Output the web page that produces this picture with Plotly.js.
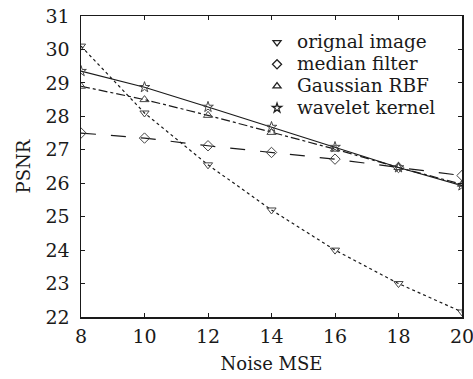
<!DOCTYPE html>
<html><head><meta charset="utf-8">
<script src="https://cdn.plot.ly/plotly-3.0.1.min.js"></script>
<style>html,body{margin:0;padding:0;background:#fff}</style>
</head><body>
<div id="chart" style="width:473px;height:379px"></div>
<script>
const noiseMSE = [8, 10, 12, 14, 16, 18, 20];
const seriesNames = ["orignal image", "median filter", "Gaussian RBF", "wavelet kernel"];
const originalImage = [30.1, 28.1, 26.55, 25.2, 24.0, 23.0, 22.15];
const medianFilter = [27.5, 27.35, 27.12, 26.92, 26.72, 26.47, 26.23];
const gaussianRBF = [28.9, 28.5, 28.03, 27.52, 27.02, 26.47, 25.97];
const waveletKernel = [29.35, 28.87, 28.28, 27.68, 27.08, 26.47, 25.93];
const xTicks = [8, 10, 12, 14, 16, 18, 20];
const yTicks = [22, 23, 24, 25, 26, 27, 28, 29, 30, 31];

const allSeries = [originalImage, medianFilter, gaussianRBF, waveletKernel];
const symbols = ["triangle-down-open", "diamond-open", "triangle-up-open", "star-open"];
const dashes = ["dot", "longdash", "dashdot", "solid"];

const traces = [];
allSeries.forEach((ys, i) => {
  traces.push({
    x: noiseMSE, y: ys, type: "scatter", mode: "lines+markers",
    line: {color: "#1a1a1a", width: 1.2, dash: dashes[i]},
    marker: {symbol: symbols[i], size: 8, color: "#444", line: {width: 1, color: "#444"}},
    showlegend: false, cliponaxis: true
  });
});
allSeries.forEach((ys, i) => {
  traces.push({
    x: [null], y: [null], type: "scatter", mode: "markers",
    name: '<span style="font-size:18.5px">' + seriesNames[i] + '</span>',
    marker: {symbol: symbols[i], size: 7, color: "#222", line: {width: 1.3, color: "#222"}},
    showlegend: true
  });
});

const fam = "DejaVu Serif, Liberation Serif, serif";
const f = s => ({family: fam, size: s, color: "#1a1a1a"});
Plotly.newPlot("chart", traces, {
  width: 473, height: 379,
  margin: {l: 81, r: 11, t: 16, b: 62},
  paper_bgcolor: "#fff", plot_bgcolor: "#fff",
  font: f(16),
  xaxis: {
    range: [8, 20], tickvals: xTicks, ticks: "inside", ticklen: 4, tickcolor: "#1a1a1a",
    showline: true, linecolor: "#1a1a1a", linewidth: 1.5, mirror: "ticks", showgrid: false, zeroline: false,
    tickfont: f(19), ticklabelstandoff: 2, ticklabeloverflow: "allow",
    title: {text: "Noise MSE", font: f(18), standoff: 11}
  },
  yaxis: {
    range: [22, 31], tickvals: yTicks, ticks: "inside", ticklen: 4, tickcolor: "#1a1a1a",
    showline: true, linecolor: "#1a1a1a", linewidth: 1.5, mirror: "ticks", showgrid: false, zeroline: false,
    tickfont: f(19), ticklabelstandoff: 6, ticklabeloverflow: "allow",
    title: {text: "PSNR", font: f(18), standoff: 10}
  },
  legend: {
    x: 0.462, y: 0.965, xanchor: "left", yanchor: "top",
    bgcolor: "rgba(255,255,255,0)", borderwidth: 0,
    font: f(14.5), itemwidth: 30, tracegroupgap: 0
  },
  showlegend: true
}, {staticPlot: true});
</script>
</body></html>
